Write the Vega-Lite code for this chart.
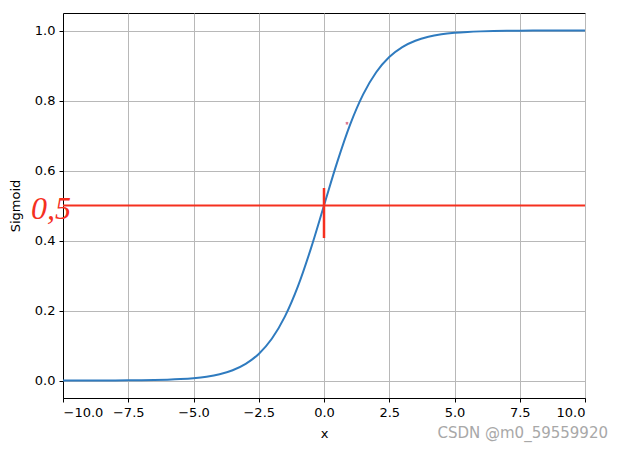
{
  "$schema": "https://vega.github.io/schema/vega-lite/v6.json",
  "width": 522,
  "height": 385,
  "autosize": {"type": "none"},
  "padding": {"left": 63, "top": 13, "right": 39, "bottom": 52},
  "background": "white",
  "title": {"text": "CSDN @m0_59559920", "orient": "bottom", "anchor": "end", "frame": "group", "fontSize": 15, "font": "DejaVu Sans", "fontWeight": "normal", "color": "#a8a8a8", "offset": -14, "dx": 23},
  "datasets": {
    "curve": [
      {"x": -10, "s": 0.0000454}, {"x": -9.5, "s": 0.0000749}, {"x": -9, "s": 0.000123}, {"x": -8.5, "s": 0.000203},
      {"x": -8, "s": 0.000335}, {"x": -7.5, "s": 0.000553}, {"x": -7, "s": 0.000911}, {"x": -6.5, "s": 0.0015},
      {"x": -6, "s": 0.00247}, {"x": -5.5, "s": 0.00407}, {"x": -5, "s": 0.00669}, {"x": -4.5, "s": 0.011},
      {"x": -4, "s": 0.018}, {"x": -3.5, "s": 0.0293}, {"x": -3, "s": 0.0474}, {"x": -2.5, "s": 0.0759},
      {"x": -2, "s": 0.1192}, {"x": -1.5, "s": 0.1824}, {"x": -1, "s": 0.2689}, {"x": -0.5, "s": 0.3775},
      {"x": 0, "s": 0.5}, {"x": 0.5, "s": 0.6225}, {"x": 1, "s": 0.7311}, {"x": 1.5, "s": 0.8176},
      {"x": 2, "s": 0.8808}, {"x": 2.5, "s": 0.9241}, {"x": 3, "s": 0.9526}, {"x": 3.5, "s": 0.9707},
      {"x": 4, "s": 0.982}, {"x": 4.5, "s": 0.989}, {"x": 5, "s": 0.9933}, {"x": 5.5, "s": 0.9959},
      {"x": 6, "s": 0.9975}, {"x": 6.5, "s": 0.9985}, {"x": 7, "s": 0.9991}, {"x": 7.5, "s": 0.99945},
      {"x": 8, "s": 0.99966}, {"x": 8.5, "s": 0.9998}, {"x": 9, "s": 0.99988}, {"x": 9.5, "s": 0.99993},
      {"x": 10, "s": 0.99995}
    ],
    "hline": [{"y": 0.5}],
    "vtick": [{"x": 0, "y": 0.407, "y2": 0.55}],
    "mark": [{"x": 0.88, "y": 0.735}],
    "label": [{"x": -10, "y": 0.5, "t": "0,5"}]
  },
  "layer": [
    {
      "data": {"name": "curve"},
      "mark": {"type": "line", "color": "#2f7bbf", "strokeWidth": 2, "interpolate": "monotone"},
      "encoding": {
        "x": {"field": "x", "type": "quantitative", "scale": {"domain": [-10, 10], "nice": false, "zero": false},
          "axis": {"values": [-10, -7.5, -5, -2.5, 0, 2.5, 5, 7.5, 10], "format": ".1f", "title": "x", "titlePadding": 8}},
        "y": {"field": "s", "type": "quantitative", "scale": {"domain": [-0.05, 1.05], "nice": false, "zero": false},
          "axis": {"values": [0, 0.2, 0.4, 0.6, 0.8, 1.0], "format": ".1f", "title": "Sigmoid", "titlePadding": 12}}
      }
    },
    {
      "data": {"name": "hline"},
      "mark": {"type": "rule", "color": "#f5301f", "strokeWidth": 2},
      "encoding": {"y": {"field": "y", "type": "quantitative"}}
    },
    {
      "data": {"name": "vtick"},
      "mark": {"type": "rule", "color": "#f5301f", "strokeWidth": 2.5},
      "encoding": {
        "x": {"field": "x", "type": "quantitative"},
        "y": {"field": "y", "type": "quantitative"},
        "y2": {"field": "y2"}
      }
    },
    {
      "data": {"name": "mark"},
      "mark": {"type": "point", "shape": "cross", "size": 10, "color": "#d04060", "filled": true, "angle": 45},
      "encoding": {
        "x": {"field": "x", "type": "quantitative"},
        "y": {"field": "y", "type": "quantitative"}
      }
    },
    {
      "data": {"name": "label"},
      "mark": {"type": "text", "color": "#f5301f", "font": "Liberation Serif", "fontStyle": "italic", "fontSize": 32, "align": "right", "baseline": "middle", "dx": 8, "dy": 3},
      "encoding": {
        "x": {"field": "x", "type": "quantitative"},
        "y": {"field": "y", "type": "quantitative"},
        "text": {"field": "t"}
      }
    }
  ],
  "config": {
    "view": {"stroke": "black", "strokeWidth": 1},
    "axis": {
      "grid": true, "gridColor": "#b8b8b8", "gridWidth": 1,
      "domainColor": "black", "tickColor": "black", "tickSize": 4,
      "labelColor": "black", "labelFont": "DejaVu Sans", "labelFontSize": 13, "labelPadding": 4,
      "titleColor": "black", "titleFont": "DejaVu Sans", "titleFontSize": 13, "titleFontWeight": "normal"
    }
  }
}
